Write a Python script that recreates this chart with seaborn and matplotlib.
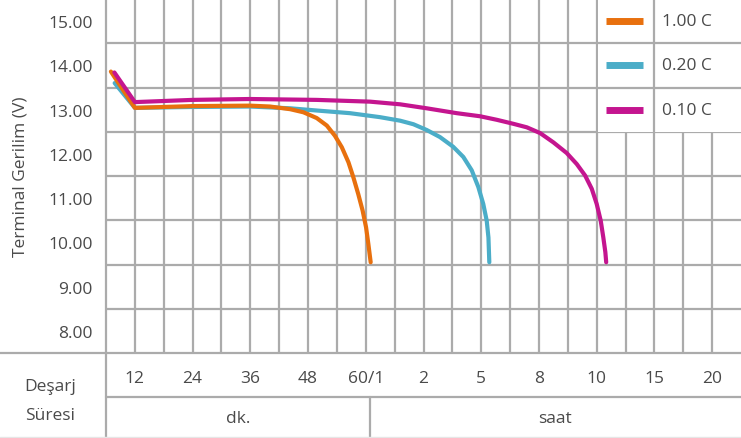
import numpy as np
import pandas as pd
import matplotlib.pyplot as plt
import seaborn as sns
from matplotlib.lines import Line2D
from matplotlib.patches import Rectangle

# x positions are in grid columns (0..22), the axis is minutes then hours
tick_pos = [1, 3, 5, 7, 9, 11, 13, 15, 17, 19, 21]
tick_labels = ["12", "24", "36", "48", "60/1", "2", "5", "8", "10", "15", "20"]
y_vals = [8, 9, 10, 11, 12, 13, 14, 15]

rates = ["1.00 C", "0.20 C", "0.10 C"]
colors = ["#e8700e", "#4badc8", "#c4158f"]

x_100 = [0.17, 1.0, 3.0, 4.99, 5.68, 6.38, 6.84, 7.30, 7.65, 7.93, 8.17, 8.40, 8.57, 8.74, 8.89, 9.01, 9.09, 9.17]
v_100 = [13.86, 13.04, 13.08, 13.09, 13.07, 13.01, 12.94, 12.81, 12.64, 12.41, 12.15, 11.81, 11.47, 11.09, 10.72, 10.34, 9.96, 9.55]

x_020 = [0.3, 1.0, 3.0, 4.99, 6.38, 7.30, 8.45, 9.49, 10.19, 10.65, 11.11, 11.57, 12.03, 12.38, 12.67, 12.90, 13.07, 13.19, 13.25, 13.28]
v_020 = [13.6, 13.04, 13.06, 13.07, 13.03, 12.98, 12.92, 12.83, 12.75, 12.67, 12.54, 12.38, 12.16, 11.93, 11.63, 11.25, 10.87, 10.49, 10.11, 9.55]

x_010 = [0.29, 1.0, 3.0, 4.99, 7.30, 9.15, 10.19, 11.11, 12.15, 12.96, 13.54, 14.11, 14.58, 15.04, 15.50, 15.96, 16.31, 16.60, 16.83, 17.00, 17.14, 17.23, 17.30, 17.33]
v_010 = [13.84, 13.17, 13.22, 13.24, 13.22, 13.18, 13.12, 13.03, 12.92, 12.85, 12.77, 12.68, 12.60, 12.47, 12.26, 12.02, 11.77, 11.51, 11.21, 10.87, 10.49, 10.11, 9.78, 9.55]

df = pd.concat([
    pd.DataFrame({"x": x_100, "v": v_100, "rate": rates[0]}),
    pd.DataFrame({"x": x_020, "v": v_020, "rate": rates[1]}),
    pd.DataFrame({"x": x_010, "v": v_010, "rate": rates[2]}),
], ignore_index=True)

sns.set_theme(style="white")
plt.rcParams["font.family"] = ["Open Sans", "DejaVu Sans"]
txt = "#4a4a4a"
grid_c = "#ababab"
fs = 12.5

W, H = 741, 439
fig = plt.figure(figsize=(W / 100, H / 100), dpi=100)
ax = fig.add_axes([106 / W, 1 - 354 / H, 635 / W, 354 / H])

# blue first so the orange sits on top of it on the plateau
draw_order = [rates[1], rates[0], rates[2]]
pal = dict(zip(rates, colors))
sns.lineplot(data=df, x="x", y="v", hue="rate", hue_order=draw_order, palette=pal,
             sort=False, estimator=None, linewidth=3.0, legend=False, ax=ax)

ax.set_xlim(0, 22)
ax.set_ylim(7.5, 15.5)
ax.set_xticks(tick_pos)
ax.set_xticklabels(tick_labels, fontsize=fs, color=txt)
ax.set_xticks(np.arange(1, 22), minor=True)
ax.set_yticks(y_vals)
ax.set_yticklabels([f"{v:.2f}" for v in y_vals], fontsize=fs, color=txt)
ax.set_yticks(np.arange(8.5, 15.0, 1), minor=True)
ax.grid(False)
ax.grid(which="minor", color=grid_c, linewidth=1.6)
ax.grid(which="major", axis="x", color=grid_c, linewidth=1.6)
ax.set_axisbelow(True)
ax.tick_params(which="both", length=0)
ax.tick_params(axis="y", pad=9.5)
ax.tick_params(axis="x", pad=12)
for s in ax.spines.values():
    s.set_visible(False)
ax.set_xlabel("")
ax.set_ylabel("Terminal Gerilim (V)", fontsize=fs, color=txt, labelpad=14)

# legend cells in the top right corner
ax.add_patch(Rectangle((17.05, 12.5), 5.5, 3.1, facecolor="white", edgecolor="none", zorder=1))
ax.plot([19, 19], [12.5, 15.5], color=grid_c, lw=1.6, zorder=1.5)
for yy in [13.5, 14.5]:
    ax.plot([17, 22], [yy, yy], color=grid_c, lw=1.6, zorder=1.5)
for i, (r, c) in enumerate(zip(rates, colors)):
    yy = 15 - i
    ax.plot([17.31, 18.6], [yy, yy], color=c, lw=5, solid_capstyle="butt", zorder=3)
    ax.text(19.27, yy, r, fontsize=fs, color=txt, va="center", ha="left")

# table lines below the chart
def fl(x0, y0, x1, y1, c=grid_c, lw=1.6):
    fig.add_artist(Line2D([x0 / W, x1 / W], [1 - y0 / H, 1 - y1 / H], color=c, lw=lw))

fl(0, 354, W, 354)
fl(106, 398, W, 398)
fl(106, 0, 106, H)
fl(370, 398, 370, H)
fl(0, 438, W, 438, c="#e6e6e6", lw=1)

fig.text(50 / W, 1 - 387 / H, "Deşarj", ha="center", va="center", fontsize=fs, color=txt)
fig.text(50 / W, 1 - 416 / H, "Süresi", ha="center", va="center", fontsize=fs, color=txt)
fig.text(238 / W, 1 - 419 / H, "dk.", ha="center", va="center", fontsize=fs, color=txt)
fig.text(555 / W, 1 - 419 / H, "saat", ha="center", va="center", fontsize=fs, color=txt)

fig.savefig("out.png", dpi=100)
